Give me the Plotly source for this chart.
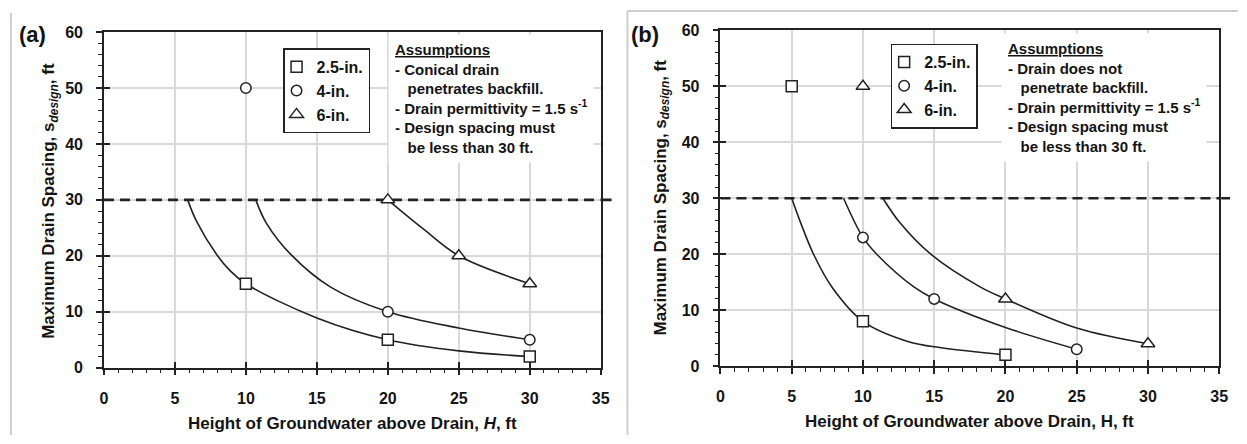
import plotly.graph_objects as go

W, H = 1247, 444
FONT = "Liberation Sans, Arial, sans-serif"
INK = "#222222"
TXT = "#141414"
GRID = "#d9d9d9"

# ---------------- data ----------------
series_names = ["2.5-in.", "4-in.", "6-in."]
x_ticks = [0, 5, 10, 15, 20, 25, 30, 35]
y_ticks = [0, 10, 20, 30, 40, 50, 60]
spacing_limit = 30  # design spacing must be less than 30 ft

# Panel (a): conical drain penetrates backfill
a_pts_25_x = [10, 20, 30]
a_pts_25_y = [15, 5, 2]
a_pts_4_x = [10, 20, 30]
a_pts_4_y = [50, 10, 5]
a_pts_6_x = [20, 25, 30]
a_pts_6_y = [30, 20, 15]

a_curve_25_x = [5.9, 6.5, 7.95, 8.9, 10, 15, 20, 25, 30]
a_curve_25_y = [30, 26.3, 20.2, 17.3, 15, 8.9, 5, 3.0, 2]
a_curve_4_x = [10.7, 11.43, 13.18, 15.97, 20, 25, 30]
a_curve_4_y = [30, 25.9, 20.2, 14.4, 10, 7.1, 5]
a_curve_6_x = [20, 22.5, 25, 30]
a_curve_6_y = [30, 24.8, 20, 15]

# Panel (b): drain does not penetrate backfill
b_pts_25_x = [5, 10, 20]
b_pts_25_y = [50, 8, 2]
b_pts_4_x = [10, 15, 25]
b_pts_4_y = [23, 12, 3]
b_pts_6_x = [10, 20, 30]
b_pts_6_y = [50, 12, 4]

b_curve_25_x = [5.0, 5.63, 6.55, 7.83, 10, 13.15, 15.5, 20]
b_curve_25_y = [30, 25.6, 19.9, 14.1, 8, 4.4, 3.26, 2]
b_curve_4_x = [8.64, 10, 11, 13.6, 15, 20, 25]
b_curve_4_y = [30, 23, 19.9, 14.1, 12, 6.9, 3]
b_curve_6_x = [11.4, 12.6, 14.8, 18.25, 20, 25, 30]
b_curve_6_y = [30, 25.6, 19.9, 14.1, 12, 6.8, 4]

symbols = ["square", "circle", "triangle-up"]
sym_sizes = [11, 10.5, 12]

# ---------------- layout geometry ----------------
dom_xa = [101 / W, 603 / W]
dom_ya = [1 - 374 / H, 1 - 25 / H]
dom_xb = [724 / W, 1228 / W]
dom_yb = [1 - 372.3 / H, 1 - 23.3 / H]

fig = go.Figure()


def add_panel(xa, ya, leg, curves, points):
    for (cx, cy) in curves:
        fig.add_trace(go.Scatter(
            x=cx, y=cy, mode="lines", xaxis=xa, yaxis=ya,
            line=dict(color=INK, width=1.6, shape="spline", smoothing=1.0),
            showlegend=False, hoverinfo="skip"))
    for name, sym, sz, (px, py) in zip(series_names, symbols, sym_sizes, points):
        fig.add_trace(go.Scatter(
            x=px, y=py, mode="markers", xaxis=xa, yaxis=ya, name=name,
            legend=leg, cliponaxis=False,
            marker=dict(symbol=sym, size=sz, color="white",
                        line=dict(color=INK, width=1.5))))


add_panel("x", "y", "legend",
          [(a_curve_25_x, a_curve_25_y), (a_curve_4_x, a_curve_4_y), (a_curve_6_x, a_curve_6_y)],
          [(a_pts_25_x, a_pts_25_y), (a_pts_4_x, a_pts_4_y), (a_pts_6_x, a_pts_6_y)])
add_panel("x2", "y2", "legend2",
          [(b_curve_25_x, b_curve_25_y), (b_curve_4_x, b_curve_4_y), (b_curve_6_x, b_curve_6_y)],
          [(b_pts_25_x, b_pts_25_y), (b_pts_4_x, b_pts_4_y), (b_pts_6_x, b_pts_6_y)])

# empty traces so that the overlay (inside-tick) axes get drawn
for xa, ya in [("x3", "y3"), ("x4", "y4")]:
    fig.add_trace(go.Scatter(x=[], y=[], xaxis=xa, yaxis=ya, showlegend=False, hoverinfo="skip"))

tickfont = dict(family=FONT, size=16, color=TXT, weight="bold")


def main_axis(dom, rng, vals, minor_dt, anchor, standoff):
    return dict(domain=dom, range=rng, tickvals=vals, showgrid=True, gridcolor=GRID,
                gridwidth=1.5, showline=True, linecolor=INK, linewidth=1.6, mirror=True,
                ticks="outside", ticklen=6, tickwidth=1.5, tickcolor=INK,
                minor=dict(dtick=minor_dt, ticks="outside", ticklen=4, tickwidth=1.2,
                           tickcolor=INK, showgrid=False),
                tickfont=tickfont, zeroline=False, anchor=anchor,
                ticklabelstandoff=standoff, fixedrange=True)


def overlay_axis(over, rng, vals, anchor, side):
    return dict(overlaying=over, range=rng, tickvals=vals, ticks="inside", ticklen=6,
                tickwidth=1.5, tickcolor=INK, showticklabels=False, showgrid=False,
                showline=False, zeroline=False, anchor=anchor, side=side)


legfont = dict(family=FONT, size=16, color=TXT, weight="bold")
fig.update_layout(
    width=W, height=H, margin=dict(l=0, r=0, t=0, b=0),
    paper_bgcolor="white", plot_bgcolor="white",
    font=dict(family=FONT, color=TXT),
    xaxis=main_axis(dom_xa, [0, 35], x_ticks, 1, "y", 9),
    yaxis=main_axis(dom_ya, [0, 60], y_ticks, 2, "x", 10),
    xaxis2=main_axis(dom_xb, [0, 35], x_ticks, 1, "y2", 9),
    yaxis2=main_axis(dom_yb, [0, 60], y_ticks, 2, "x2", 10),
    xaxis3=overlay_axis("x", [0, 35], x_ticks, "y3", "bottom"),
    yaxis3=overlay_axis("y", [0, 60], y_ticks, "x3", "left"),
    xaxis4=overlay_axis("x2", [0, 35], x_ticks, "y4", "bottom"),
    yaxis4=overlay_axis("y2", [0, 60], y_ticks, "x4", "left"),
    legend=dict(x=282 / W, y=1 - 42 / H, xanchor="left", yanchor="top",
                bgcolor="white", bordercolor=INK, borderwidth=1.5, font=legfont,
                itemwidth=30, indentation=-8),
    legend2=dict(x=896 / W, y=1 - 37 / H, xanchor="left", yanchor="top",
                 bgcolor="white", bordercolor=INK, borderwidth=1.5, font=legfont,
                 itemwidth=30, indentation=-8),
)

# design-spacing limit (dashed) and its short run past the right axis
for xa, ya, dom in [("x", "y", dom_xa), ("x2", "y2", dom_xb)]:
    fig.add_shape(type="line", xref=xa, yref=ya, x0=0, x1=35,
                  y0=spacing_limit, y1=spacing_limit, layer="between",
                  line=dict(color=INK, width=2.6, dash="10px,6px"))
    fig.add_shape(type="line", xref="paper", yref=ya, x0=dom[1] + 2 / W, x1=dom[1] + 11 / W,
                  y0=spacing_limit, y1=spacing_limit, layer="above",
                  line=dict(color=INK, width=2.6))

# light gray frame lines of the original figure
frame = dict(color="#cfcfcf", width=2)
fig.add_shape(type="line", xref="paper", yref="paper", x0=7 / W, x1=7 / W,
              y0=0, y1=1 - 5 / H, line=frame)
fig.add_shape(type="line", xref="paper", yref="paper", x0=630 / W, x1=630 / W,
              y0=0, y1=1 - 3 / H, line=frame)
fig.add_shape(type="line", xref="paper", yref="paper", x0=630 / W, x1=1,
              y0=1 - 3 / H, y1=1 - 3 / H, line=frame)

NB = "\u00a0\u00a0\u00a0"
assump_a = ("<u>Assumptions</u><br>- Conical drain<br>" + NB + "penetrates backfill.<br>"
            "- Drain permittivity = 1.5 s<sup>-1</sup><br>- Design spacing must<br>"
            + NB + "be less than 30 ft.")
assump_b = ("<u>Assumptions</u><br>- Drain does not<br>" + NB + "penetrate backfill.<br>"
            "- Drain permittivity = 1.5 s<sup>-1</sup><br>- Design spacing must<br>"
            + NB + "be less than 30 ft.")

afont = dict(family=FONT, size=15, color=TXT, weight="bold")
fig.add_annotation(text=assump_a, xref="paper", yref="paper", x=388 / W, y=1 - 27 / H,
                   xanchor="left", yanchor="top", align="left", showarrow=False,
                   bgcolor="white", borderpad=6, font=afont)
fig.add_annotation(text=assump_b, xref="paper", yref="paper", x=1008 / W, y=1 - 26 / H,
                   xanchor="left", yanchor="top", align="left", showarrow=False,
                   bgcolor="white", borderpad=6, font=afont)

tfont = dict(family=FONT, size=17, color=TXT, weight="bold")
common = dict(xref="paper", yref="paper", xanchor="center", yanchor="middle", showarrow=False)
fig.add_annotation(text="Height of Groundwater above Drain, <i>H</i>, ft",
                   x=sum(dom_xa) / 2, y=1 - 432 / H, font=tfont, **common)
fig.add_annotation(text="Height of Groundwater above Drain, H, ft",
                   x=sum(dom_xb) / 2, y=1 - 430 / H, font=tfont, **common)
fig.add_annotation(text="Maximum Drain Spacing, s<sub><i>design</i></sub>, ft",
                   x=47 / W, y=1 - 201 / H, textangle=-90, font=tfont, **common)
fig.add_annotation(text="Maximum Drain Spacing, s<sub><i>design</i></sub>, ft",
                   x=665 / W, y=1 - 197 / H, textangle=-90, font=tfont, **common)

pfont = dict(family=FONT, size=22, color=TXT, weight="bold")
fig.add_annotation(text="(a)", x=29 / W, y=1 - 28 / H, font=pfont, **common)
fig.add_annotation(text="(b)", x=648 / W, y=1 - 28 / H, font=pfont, **common)

fig.write_html("out.html")
